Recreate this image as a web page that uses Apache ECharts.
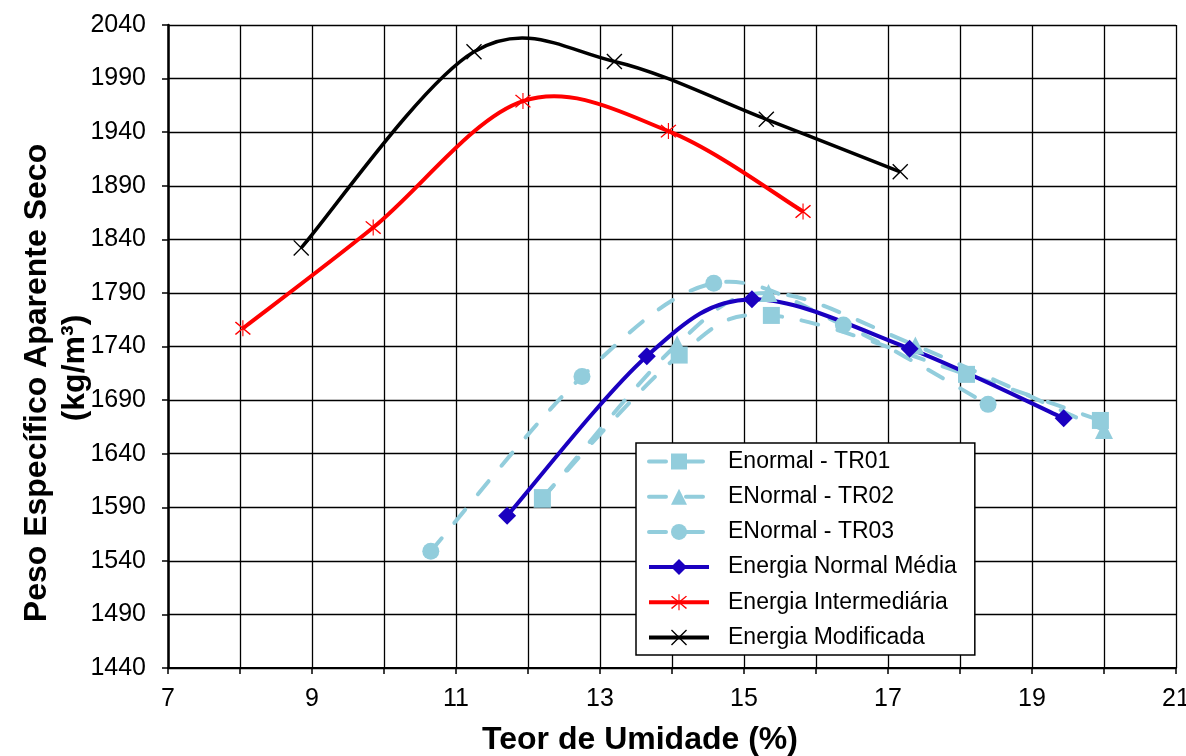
<!DOCTYPE html>
<html><head><meta charset="utf-8">
<script src="https://cdn.jsdelivr.net/npm/echarts@6/dist/echarts.min.js"></script>
<style>html,body{margin:0;padding:0;background:#fff}#c{width:1186px;height:756px}</style>
</head><body><div id="c"></div>
<script>
const xTicksMin = 7, xTicksMax = 21, xTickStep = 1;
const yTicksMin = 1440, yTicksMax = 2040, yTickStep = 50;
const seriesNames = ['Enormal - TR01','ENormal - TR02','ENormal - TR03','Energia Normal Média','Energia Intermediária','Energia Modificada'];
const xTR01 = [12.2, 14.1, 15.38, 18.09, 19.95];
const yTR01 = [1599, 1732, 1769, 1714, 1671];
const xTR02 = [12.2, 14.07, 15.34, 17.38, 20.0];
const yTR02 = [1598, 1742, 1790, 1741, 1662];
const xTR03 = [10.65, 12.75, 14.58, 16.38, 18.39];
const yTR03 = [1549, 1712, 1799, 1760, 1686];
const xMedia = [11.71, 13.65, 15.11, 17.3, 19.44];
const yMedia = [1582, 1731, 1784, 1738, 1673];
const xInter = [8.04, 9.85, 11.93, 13.95, 15.82];
const yInter = [1757, 1851, 1969, 1941, 1866];
const xMod = [8.85, 11.25, 13.2, 15.31, 17.17];
const yMod = [1832, 2015, 2006, 1952, 1903];

const pair = (xs, ys) => xs.map((x, i) => [x, ys[i]]);
const LB = '#92CDDC', DB = '#1A00C0', RED = '#FF0000', BLK = '#000000';
const FONT = '"Liberation Sans", Arial, sans-serif';
const xPath = 'path://M0,1.2L1.2,0L20,18.8L18.8,20Z M18.8,0L20,1.2L1.2,20L0,18.8Z';
const starPath = 'path://M0,1.3L1.3,0L20,18.7L18.7,20Z M18.7,0L20,1.3L1.3,20L0,18.7Z M9.3,-2L10.7,-2L10.7,22L9.3,22Z';

// Catmull-Rom style smoothed curve (like spreadsheet "smoothed line"), drawn through the library's coord mapping
function curveSeries(xs, ys, stroke, width, dash) {
  return {
    type: 'custom', coordinateSystem: 'cartesian2d', silent: true,
    data: [[xs[0], ys[0]]], encode: { x: 0, y: 1 },
    renderItem: (params, api) => {
      const P = xs.map((x, i) => api.coord([x, ys[i]]));
      const n = P.length;
      let d = 'M' + P[0][0] + ' ' + P[0][1];
      for (let i = 0; i < n - 1; i++) {
        const p0 = P[Math.max(i - 1, 0)], p1 = P[i], p2 = P[i + 1], p3 = P[Math.min(i + 2, n - 1)];
        const c1 = [p1[0] + (p2[0] - p0[0]) / 6, p1[1] + (p2[1] - p0[1]) / 6];
        const c2 = [p2[0] - (p3[0] - p1[0]) / 6, p2[1] - (p3[1] - p1[1]) / 6];
        d += ' C' + c1[0] + ' ' + c1[1] + ' ' + c2[0] + ' ' + c2[1] + ' ' + p2[0] + ' ' + p2[1];
      }
      return { type: 'path', shape: { pathData: d },
        style: { fill: null, stroke, lineWidth: width, lineDash: dash || null, lineCap: dash ? 'round' : 'butt', lineJoin: 'round' } };
    }
  };
}
function markerSeries(name, xs, ys, color, symbol, size) {
  return { name, type: 'line', data: pair(xs, ys), symbol, symbolSize: size,
    lineStyle: { width: 0 }, itemStyle: { color }, emphasis: { disabled: true } };
}
const DASH = [17, 20];
const legendItem = (name, color, width, dash) => ({ name,
  lineStyle: { color, width, type: dash || 'solid', opacity: 1, cap: dash ? 'round' : 'butt' } });

const chart = echarts.init(document.getElementById('c'), null, { renderer: 'canvas' });
chart.setOption({
  animation: false,
  backgroundColor: '#fff',
  grid: { left: 168, right: 10, top: 25, bottom: 88, containLabel: false, outerBoundsMode: 'none' },
  xAxis: {
    type: 'value', min: xTicksMin, max: xTicksMax, interval: xTickStep,
    axisLine: { show: true, onZero: false, lineStyle: { color: BLK, width: 2 } },
    axisTick: { show: true, length: 6, interval: (i) => i % 2 === 0, lineStyle: { color: BLK, width: 1.5 } },
    axisLabel: { color: BLK, fontSize: 25, fontFamily: FONT, margin: 19, hideOverlap: false,
      formatter: v => (Math.round(v) % 2 === 1 ? String(v) : '') },
    splitLine: { show: true, lineStyle: { color: BLK, width: 1.3 } }
  },
  yAxis: {
    type: 'value', min: yTicksMin, max: yTicksMax, interval: yTickStep,
    axisLine: { show: true, onZero: false, lineStyle: { color: BLK, width: 2.5 } },
    axisTick: { show: true, length: 6, lineStyle: { color: BLK, width: 1.5 } },
    axisLabel: { color: BLK, fontSize: 25, fontFamily: FONT, margin: 22, formatter: v => String(v) },
    splitLine: { show: true, lineStyle: { color: BLK, width: 1.3 } }
  },
  legend: {
    orient: 'vertical', left: 636, top: 443,
    backgroundColor: '#fff', borderColor: BLK, borderWidth: 1.5, borderRadius: 0,
    padding: [7, 18, 6, 11], itemGap: 12.2, itemWidth: 60, itemHeight: 20,
    textStyle: { color: BLK, fontSize: 23, fontFamily: FONT, padding: [0, 0, 0, 14] },
    data: [
      legendItem(seriesNames[0], LB, 4, DASH),
      legendItem(seriesNames[1], LB, 4, DASH),
      legendItem(seriesNames[2], LB, 4, DASH),
      legendItem(seriesNames[3], DB, 4),
      legendItem(seriesNames[4], RED, 4),
      legendItem(seriesNames[5], BLK, 4)
    ]
  },
  series: [
    curveSeries(xTR02, yTR02, LB, 4, DASH),
    markerSeries(seriesNames[1], xTR02, yTR02, LB, 'triangle', 18),
    curveSeries(xTR01, yTR01, LB, 4, DASH),
    markerSeries(seriesNames[0], xTR01, yTR01, LB, 'rect', 17),
    curveSeries(xTR03, yTR03, LB, 4, DASH),
    markerSeries(seriesNames[2], xTR03, yTR03, LB, 'circle', 17),
    curveSeries(xMedia, yMedia, DB, 4),
    markerSeries(seriesNames[3], xMedia, yMedia, DB, 'diamond', 18),
    curveSeries(xInter, yInter, RED, 4),
    markerSeries(seriesNames[4], xInter, yInter, RED, starPath, 16),
    curveSeries(xMod, yMod, BLK, 3.5),
    markerSeries(seriesNames[5], xMod, yMod, BLK, xPath, 16)
  ],
  graphic: [
    { type: 'text', x: 640, y: 740, style: { text: 'Teor de Umidade (%)', fill: BLK,
      font: 'bold 32px ' + FONT, align: 'center', verticalAlign: 'middle' } },
    { type: 'text', x: 37, y: 383, rotation: Math.PI / 2, style: { text: 'Peso Específico Aparente Seco',
      fill: BLK, font: 'bold 32px ' + FONT, align: 'center', verticalAlign: 'middle' } },
    { type: 'text', x: 75, y: 368, rotation: Math.PI / 2, style: { text: '(kg/m³)',
      fill: BLK, font: 'bold 32px ' + FONT, align: 'center', verticalAlign: 'middle' } }
  ]
});
</script></body></html>
